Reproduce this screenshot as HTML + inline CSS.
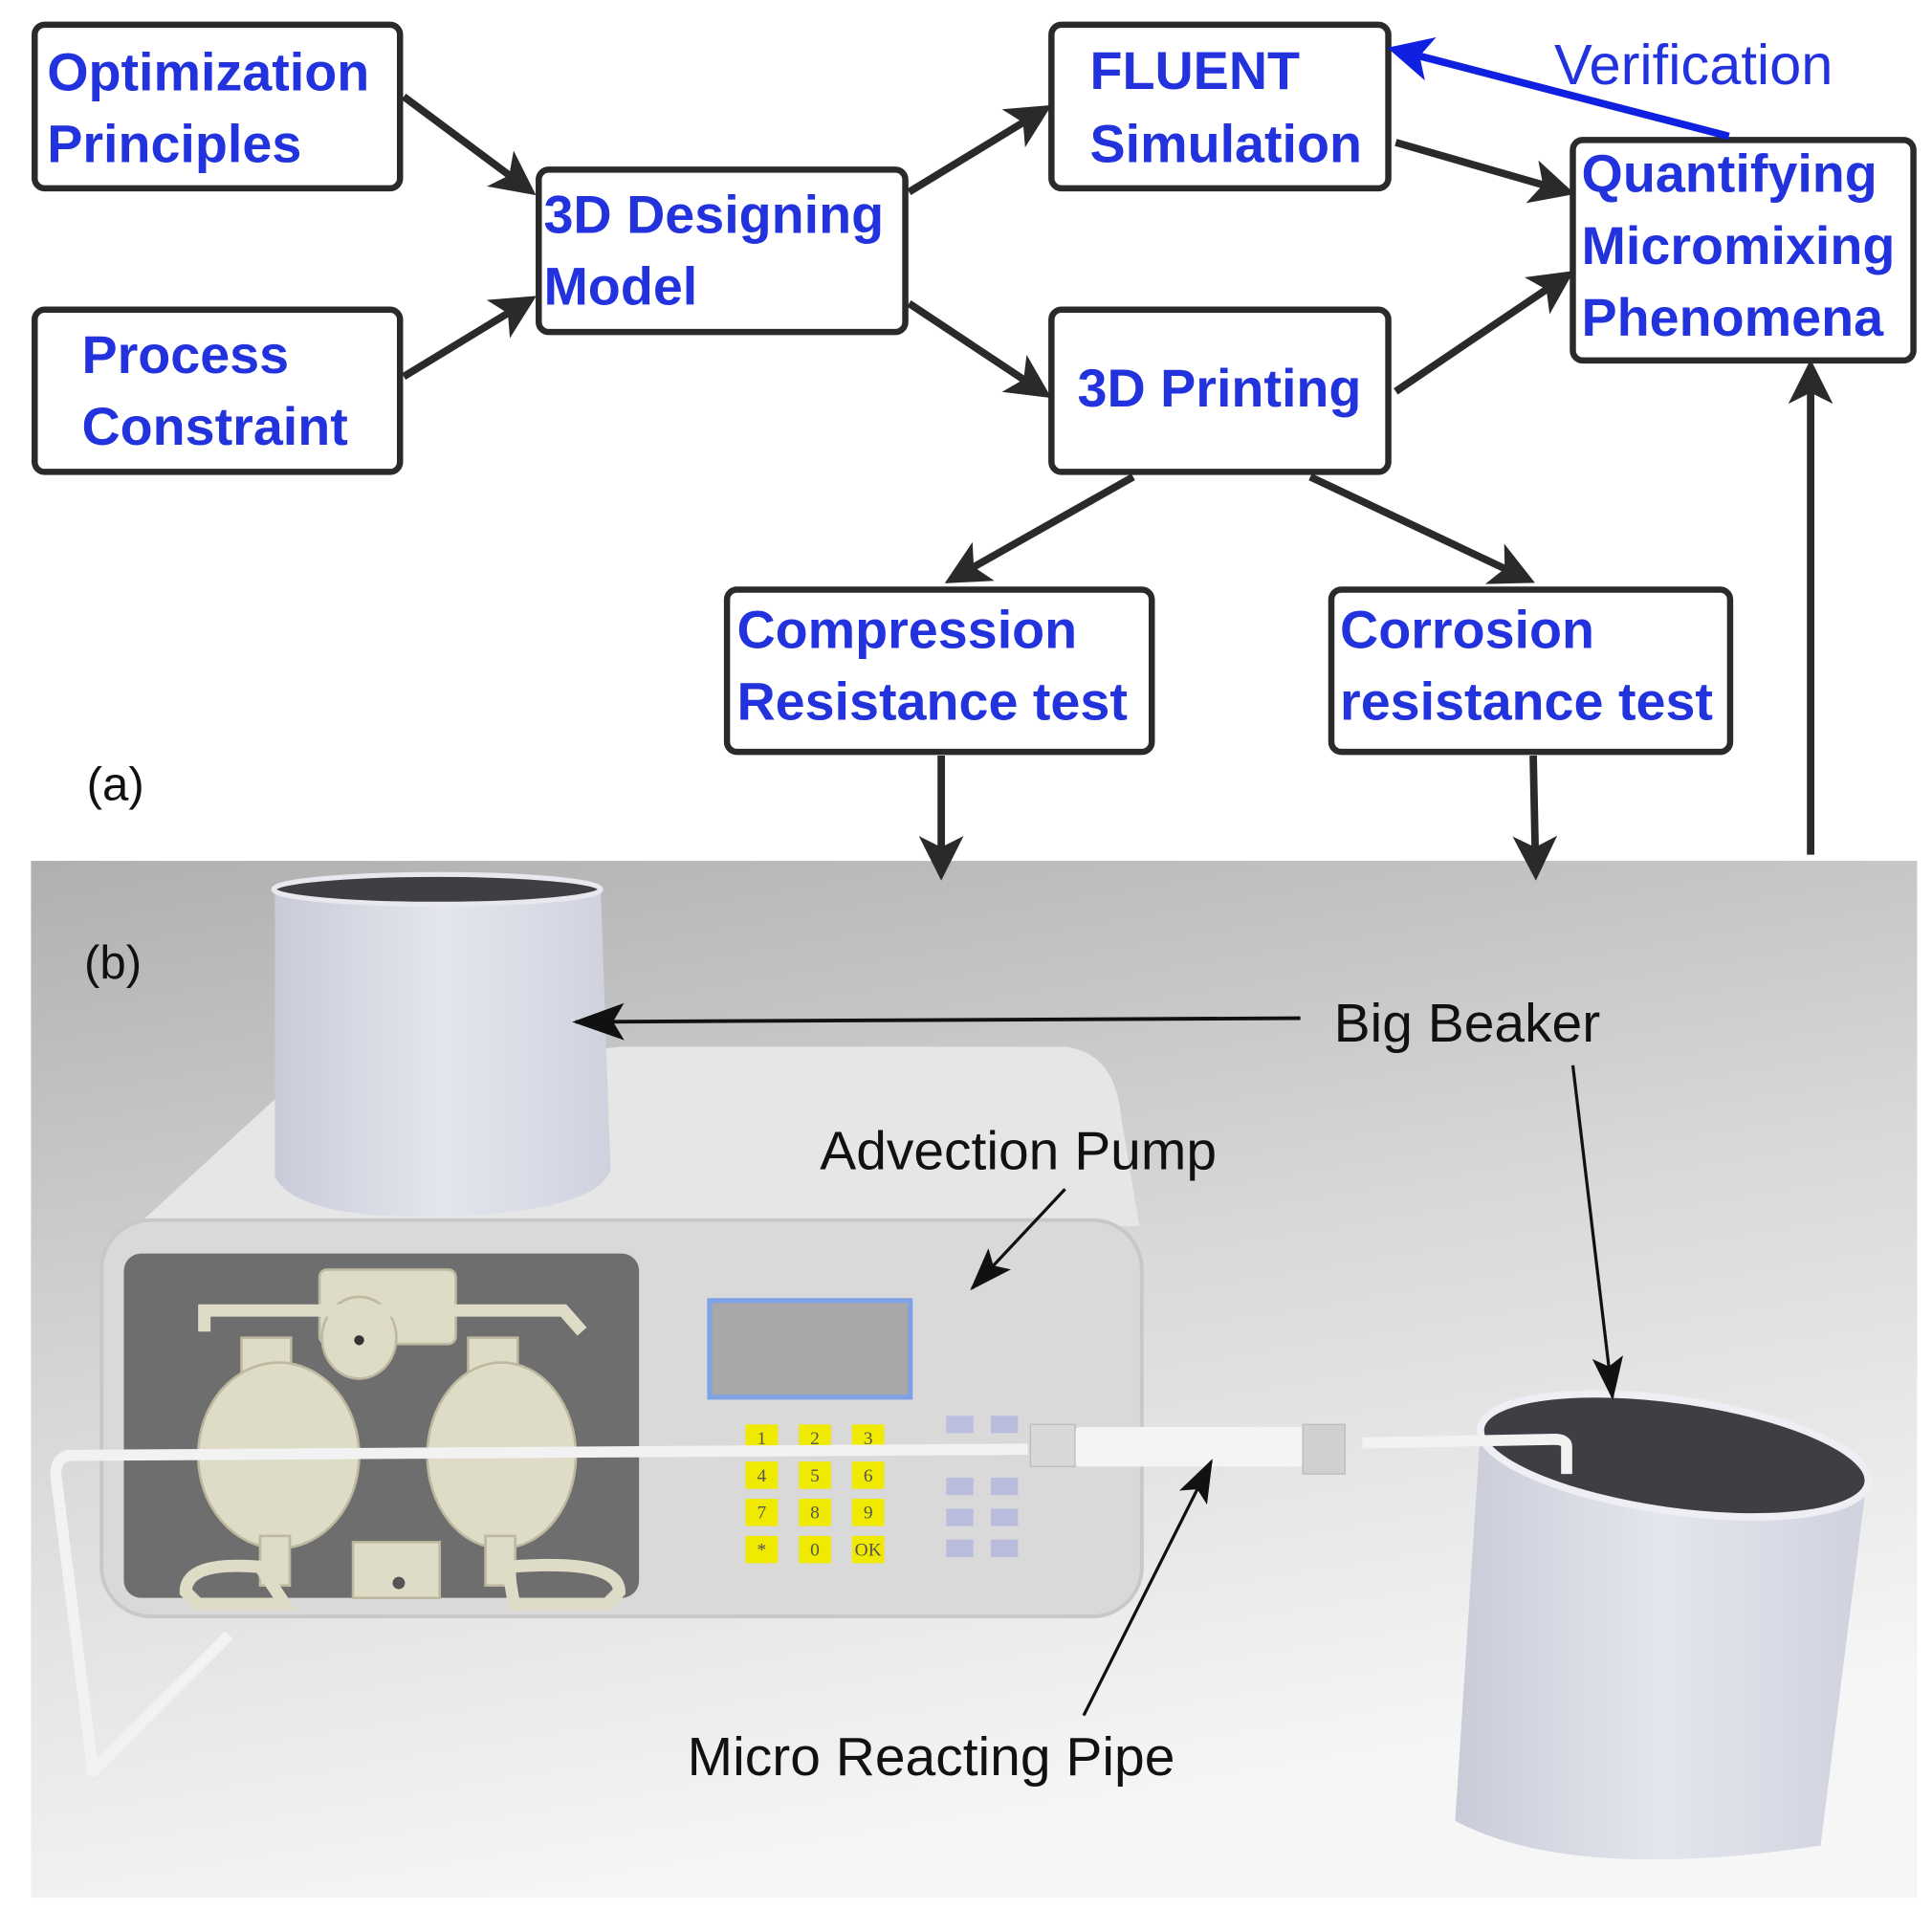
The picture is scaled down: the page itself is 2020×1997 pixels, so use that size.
<!DOCTYPE html>
<html><head><meta charset="utf-8"><style>
html,body{margin:0;padding:0;background:#fff}
svg{display:block}
.b{font-family:"Liberation Sans",sans-serif;font-weight:bold;font-size:43px;fill:#2233dd}
.k{font-family:"Liberation Sans",sans-serif;font-size:44px;fill:#111}
.box{fill:#fff;stroke:#2a2a2a;stroke-width:5}
.ar{stroke:#2a2a2a;stroke-width:6;fill:none}
</style></head><body>
<svg width="2020" height="1997" viewBox="0 0 1560 1542" preserveAspectRatio="none" xmlns="http://www.w3.org/2000/svg">
<defs>
<marker id="m" markerWidth="6" markerHeight="6" refX="5" refY="3" orient="auto" markerUnits="strokeWidth"><path d="M0,0 L6,3 L0,6 L1.5,3 z" fill="#2a2a2a"/></marker>
<marker id="mb" markerWidth="6" markerHeight="6" refX="5" refY="3" orient="auto" markerUnits="strokeWidth"><path d="M0,0 L6,3 L0,6 L1.5,3 z" fill="#1020e0"/></marker>
<marker id="mt" markerWidth="14" markerHeight="10" refX="13" refY="5" orient="auto" markerUnits="strokeWidth"><path d="M0,0 L14,5 L0,10 L3,5 z" fill="#111"/></marker>
<linearGradient id="bg" x1="0" y1="0" x2="0.3" y2="1"><stop offset="0" stop-color="#b0b0b0"/><stop offset="0.5" stop-color="#d8d8d8"/><stop offset="1" stop-color="#f6f6f6"/></linearGradient>
<linearGradient id="bk" x1="0" y1="0" x2="1" y2="0"><stop offset="0" stop-color="#c9ccd8"/><stop offset="0.5" stop-color="#e4e6ee"/><stop offset="1" stop-color="#cfd2de"/></linearGradient>
</defs>

<rect class="box" x="28" y="20" width="295" height="132" rx="8"/>
<text class="b" x="38" y="73">Optimization</text><text class="b" x="38" y="131">Principles</text>
<rect class="box" x="28" y="250" width="295" height="131" rx="8"/>
<text class="b" x="66" y="301">Process</text><text class="b" x="66" y="359">Constraint</text>
<rect class="box" x="435" y="137" width="296" height="131" rx="8"/>
<text class="b" x="439" y="188">3D Designing</text><text class="b" x="439" y="246">Model</text>
<rect class="box" x="849" y="20" width="272" height="132" rx="8"/>
<text class="b" x="880" y="72">FLUENT</text><text class="b" x="880" y="131">Simulation</text>
<rect class="box" x="849" y="250" width="272" height="131" rx="8"/>
<text class="b" x="870" y="328">3D Printing</text>
<rect class="box" x="1270" y="113" width="275" height="178" rx="8"/>
<text class="b" x="1277" y="155">Quantifying</text><text class="b" x="1277" y="213">Micromixing</text><text class="b" x="1277" y="271">Phenomena</text>
<rect class="box" x="587" y="476" width="343" height="131" rx="8"/>
<text class="b" x="595" y="523">Compression</text><text class="b" x="595" y="581">Resistance test</text>
<rect class="box" x="1075" y="476" width="322" height="131" rx="8"/>
<text class="b" x="1082" y="523">Corrosion</text><text class="b" x="1082" y="581">resistance test</text>
<text x="1255" y="68" style="font-family:'Liberation Sans',sans-serif;font-size:46px;fill:#2233dd">Verification</text>
<text class="k" x="70" y="646" style="font-size:38px">(a)</text>

<line class="ar" x1="326" y1="78" x2="428" y2="154" marker-end="url(#m)"/>
<line class="ar" x1="326" y1="304" x2="428" y2="242" marker-end="url(#m)"/>
<line class="ar" x1="734" y1="155" x2="844" y2="88" marker-end="url(#m)"/>
<line class="ar" x1="734" y1="245" x2="844" y2="318" marker-end="url(#m)"/>
<line class="ar" x1="1127" y1="115" x2="1266" y2="155" marker-end="url(#m)"/>
<line class="ar" x1="1127" y1="316" x2="1266" y2="222" marker-end="url(#m)"/>
<line x1="1396" y1="110" x2="1126" y2="40" stroke="#1020e0" stroke-width="6" marker-end="url(#mb)"/>
<line class="ar" x1="915" y1="385" x2="768" y2="468" marker-end="url(#m)"/>
<line class="ar" x1="1058" y1="385" x2="1234" y2="468" marker-end="url(#m)"/>

<rect x="25" y="695" width="1523" height="837" fill="url(#bg)"/>
<line class="ar" x1="760" y1="610" x2="760" y2="705" marker-end="url(#m)"/>
<line class="ar" x1="1238" y1="610" x2="1240" y2="705" marker-end="url(#m)"/>
<line class="ar" x1="1462" y1="690" x2="1462" y2="296" marker-end="url(#m)"/>

<path d="M110,990 L230,880 L500,845 L860,845 Q900,850 905,900 L920,990 Z" fill="#e6e6e6"/>
<rect x="82" y="985" width="840" height="320" rx="40" fill="#d9d9d9" stroke="#c8c8c8" stroke-width="3"/>
<rect x="100" y="1012" width="416" height="278" rx="14" fill="#6e6e6e"/>
<g fill="#dedbc6" stroke="#bdb9a0" stroke-width="2">
<rect x="258" y="1025" width="110" height="60" rx="6"/>
<ellipse cx="290" cy="1080" rx="30" ry="33"/>
<path d="M165,1075 L165,1058 L455,1058 L470,1075" fill="none" stroke="#dedbc6" stroke-width="10"/>
<rect x="195" y="1080" width="40" height="45"/><rect x="378" y="1080" width="40" height="45"/>
<ellipse cx="225" cy="1175" rx="65" ry="75"/>
<ellipse cx="405" cy="1175" rx="60" ry="75"/>
<rect x="210" y="1240" width="24" height="40"/><rect x="392" y="1240" width="24" height="40"/>
<rect x="285" y="1245" width="70" height="45"/>
<path d="M150,1285 Q150,1260 210,1265 L230,1295 L160,1295 Z M410,1265 Q500,1258 500,1285 L490,1295 L415,1295 Z" fill="none" stroke="#dedbc6" stroke-width="10"/>
</g>
<circle cx="290" cy="1082" r="4" fill="#333"/><circle cx="322" cy="1278" r="5" fill="#555"/>
<rect x="573" y="1050" width="162" height="78" fill="#a8a8a8" stroke="#7fa2e6" stroke-width="4"/>
<g fill="#f0ea00">
<rect x="602" y="1150" width="26" height="22"/><rect x="645" y="1150" width="26" height="22"/><rect x="688" y="1150" width="26" height="22"/>
<rect x="602" y="1180" width="26" height="22"/><rect x="645" y="1180" width="26" height="22"/><rect x="688" y="1180" width="26" height="22"/>
<rect x="602" y="1210" width="26" height="22"/><rect x="645" y="1210" width="26" height="22"/><rect x="688" y="1210" width="26" height="22"/>
<rect x="602" y="1240" width="26" height="22"/><rect x="645" y="1240" width="26" height="22"/><rect x="688" y="1240" width="26" height="22"/>
</g>
<g font-family="Liberation Serif,serif" font-size="15" fill="#555" text-anchor="middle">
<text x="615" y="1166">1</text><text x="658" y="1166">2</text><text x="701" y="1166">3</text>
<text x="615" y="1196">4</text><text x="658" y="1196">5</text><text x="701" y="1196">6</text>
<text x="615" y="1226">7</text><text x="658" y="1226">8</text><text x="701" y="1226">9</text>
<text x="615" y="1256">*</text><text x="658" y="1256">0</text><text x="701" y="1256">OK</text>
</g>
<g fill="#b3b6e0" opacity="0.8">
<rect x="764" y="1143" width="22" height="14"/><rect x="800" y="1143" width="22" height="14"/>
<rect x="764" y="1193" width="22" height="14"/><rect x="800" y="1193" width="22" height="14"/>
<rect x="764" y="1218" width="22" height="14"/><rect x="800" y="1218" width="22" height="14"/>
<rect x="764" y="1243" width="22" height="14"/><rect x="800" y="1243" width="22" height="14"/>
</g>
<path d="M222,720 L222,950 Q240,985 360,982 Q480,978 493,945 L485,717 Z" fill="url(#bk)"/>
<ellipse cx="353" cy="718" rx="132" ry="12" fill="#3d3f44" stroke="#e8e8ee" stroke-width="4"/>
<path d="M1195,1160 L1175,1470 Q1270,1520 1470,1490 L1508,1190 Z" fill="url(#bk)"/>
<ellipse cx="1352" cy="1175" rx="158" ry="45" transform="rotate(8 1352 1175)" fill="#3d3f44" stroke="#eeeef4" stroke-width="6"/>
<path d="M1265,1190 L1265,1168 Q1265,1162 1255,1162 L1100,1165 M1050,1168 L870,1168 M830,1170 L55,1175 Q45,1178 45,1190 L75,1430 L185,1320" fill="none" stroke="#f2f2f2" stroke-width="9" stroke-linejoin="round"/>
<rect x="868" y="1152" width="185" height="32" rx="4" fill="#f4f4f4"/>
<rect x="832" y="1150" width="36" height="34" fill="#d8d8d8" stroke="#bbb"/>
<rect x="1052" y="1150" width="34" height="40" fill="#d0d0d0" stroke="#bbb"/>
<text class="k" x="68" y="790" style="font-size:38px">(b)</text>
<text class="k" x="1077" y="841">Big Beaker</text>
<text class="k" x="662" y="944">Advection Pump</text>
<text class="k" x="555" y="1433">Micro Reacting Pipe</text>
<line x1="1050" y1="822" x2="465" y2="825" stroke="#111" stroke-width="3" marker-end="url(#mt)"/>
<line x1="1270" y1="860" x2="1302" y2="1128" stroke="#111" stroke-width="2.5" marker-end="url(#mt)"/>
<line x1="860" y1="960" x2="785" y2="1040" stroke="#111" stroke-width="2.5" marker-end="url(#mt)"/>
<line x1="875" y1="1385" x2="978" y2="1180" stroke="#111" stroke-width="2.5" marker-end="url(#mt)"/>
</svg>
</body></html>
